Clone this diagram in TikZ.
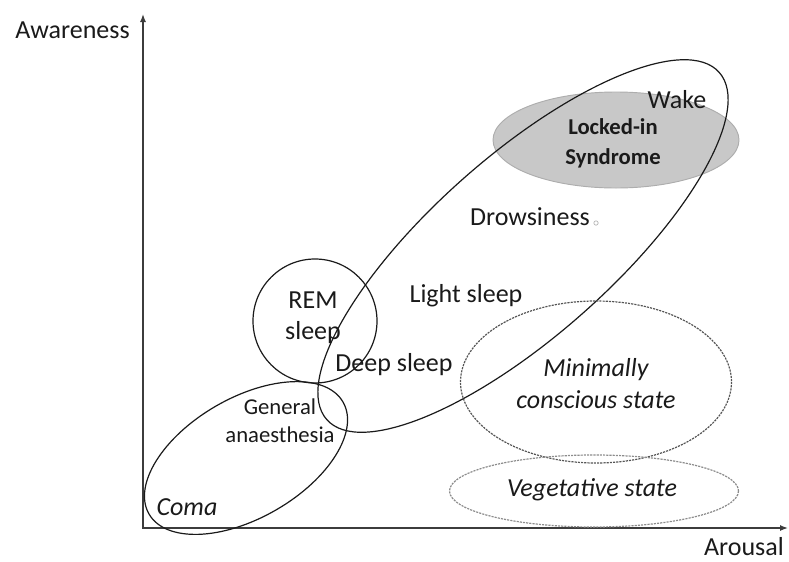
\documentclass[tikz,border=0pt]{standalone}
\usepackage{fontspec}
\setmainfont{Carlito}
\usetikzlibrary{arrows.meta}
\definecolor{ink}{HTML}{1A1A1A}
\definecolor{lisfill}{HTML}{C8C8C8}
\definecolor{lisedge}{HTML}{ADADAD}
\definecolor{mcsedge}{HTML}{555555}
\definecolor{vsedge}{HTML}{8C8C8C}
\begin{document}
\begin{tikzpicture}[x=0.75pt,y=-0.75pt,
  axisline/.style={draw=ink!85, line width=1pt},
  stateline/.style={draw=ink, line width=0.9pt},
  dashline/.style={line width=0.9pt, dash pattern=on 1.6pt off 0.8pt},
  lbl/.style={text=ink, font=\fontsize{19.5}{24}\selectfont, align=center, inner sep=0pt},
  smalllbl/.style={text=ink, font=\fontsize{17}{21}\selectfont, align=center, inner sep=0pt},
]
\useasboundingbox (0,0) rectangle (789,561);

% axes
\coordinate (ytip) at (143,14);
\coordinate (O) at (143,528);
\coordinate (xtip) at (788,528);
\draw[axisline, {Latex[length=6pt,width=4.5pt]}-{Latex[length=6pt,width=4.5pt]}] (ytip) -- (O) -- (xtip);
\node[lbl, anchor=east] (aware) at (130,30) {Awareness};
\node[lbl] (arousal) at (744,547) {Arousal};

% locked-in syndrome (filled, drawn first)
\fill[lisfill, draw=lisedge, line width=0.7pt] (616,140) ellipse [x radius=123, y radius=48];
\node[smalllbl, font=\fontsize{17}{22.5}\selectfont\bfseries] (lis) at (613,143) {Locked-in\\Syndrome};

% wakefulness / sleep continuum
\draw[stateline, rotate around={41.5:(523,246)}] (523,246) ellipse [x radius=262, y radius=90];
\node[lbl] (wake) at (677,100) {Wake};
\node[lbl] (drowsy) at (530,217) {Drowsiness};
\draw[gray!60, line width=0.5pt] (596,223) circle [radius=2.2];
\node[lbl] (light) at (466,296) {Light sleep};
\node[lbl] (deep) at (394,365) {Deep sleep};

% REM sleep
\draw[stateline] (315,321) circle [radius=62];
\node[lbl, font=\fontsize{19.5}{23}\selectfont] (rem) at (313,318) {REM\\sleep};

% anaesthesia / coma
\draw[stateline, rotate around={30:(246,458)}] (246,458) ellipse [x radius=112, y radius=60];
\node[smalllbl] (ga) at (280,421) {General\\anaesthesia};
\node[lbl, font=\fontsize{19.5}{24}\selectfont\itshape] (coma) at (187,507) {Coma};

% disorders of consciousness
\draw[dashline, draw=mcsedge] (596,382) ellipse [x radius=135.5, y radius=81];
\node[lbl, font=\fontsize{19.5}{24}\selectfont\itshape] (mcs) at (596,384) {Minimally\\conscious state};
\draw[dashline, draw=vsedge] (594,491) ellipse [x radius=144.5, y radius=36];
\node[lbl, font=\fontsize{19.5}{24}\selectfont\itshape] (vs) at (592,490) {Vegetative state};
\end{tikzpicture}
\end{document}
